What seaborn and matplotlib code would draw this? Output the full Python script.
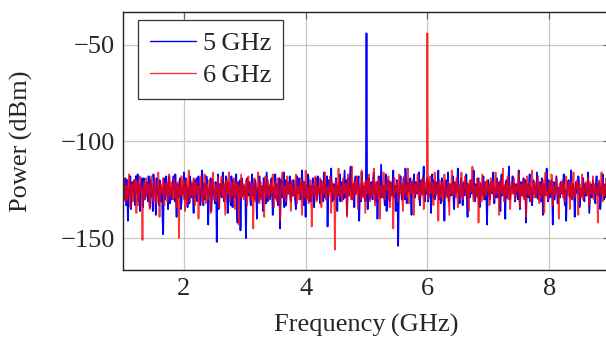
import numpy as np
import pandas as pd
import matplotlib
matplotlib.use("Agg")
import matplotlib.pyplot as plt
import seaborn as sns

# Power spectrum values (dBm) at 1.00, 1.02, ... 9.00 GHz
blue_5ghz = [
    -122,-130,-119,-127,-141,-124,-118,-131,-126,-120,-133,-123,-117,-128,-136,-121,-125,-119,-130,-124,
    -127,-118,-134,-122,-129,-117,-125,-138,-121,-128,-120,-131,-124,-148,-119,-127,-123,-135,-118,-126,
    -130,-121,-125,-117,-139,-123,-128,-119,-132,-124,-116,-127,-121,-134,-125,-118,-129,-122,-137,-120,
    -126,-131,-118,-124,-129,-115,-133,-122,-127,-120,-143,-125,-119,-130,-123,-128,-121,-152,-117,-126,
    -122,-129,-116,-131,-124,-119,-137,-121,-127,-118,-134,-123,-128,-117,-142,-125,-120,-130,-122,-126,
    -124,-150,-119,-128,-121,-133,-117,-126,-130,-122,-140,-125,-118,-129,-123,-136,-120,-127,-116,-131,
    -123,-128,-119,-138,-124,-117,-130,-122,-126,-145,-120,-129,-116,-125,-133,-121,-127,-118,-131,-124,
    -120,-127,-135,-118,-125,-122,-130,-115,-128,-121,-139,-124,-117,-131,-123,-126,-119,-134,-122,-128,
    -118,-125,-132,-121,-127,-116,-129,-123,-144,-120,-126,-114,-131,-122,-128,-119,-136,-124,-117,-127,
    -121,-130,-115,-125,-138,-119,-127,-113,-129,-122,-134,-118,-126,-120,-141,-124,-116,-128,-123,-131,
    -44,-135,-119,-126,-121,-130,-116,-128,-122,-140,-118,-125,-112,-129,-123,-133,-117,-126,-120,-131,
    -122,-128,-115,-127,-136,-120,-154,-124,-118,-130,-123,-127,-114,-132,-121,-126,-119,-138,-124,-117,
    -129,-122,-126,-116,-133,-120,-127,-113,-131,-124,-119,-128,-122,-137,-117,-125,-130,-121,-127,-115,
    -126,-132,-119,-124,-141,-121,-128,-116,-130,-123,-127,-118,-135,-122,-126,-114,-129,-124,-120,-133,
    -121,-127,-117,-139,-124,-129,-120,-126,-115,-131,-123,-128,-119,-134,-122,-126,-118,-130,-124,-143,
    -120,-128,-122,-125,-116,-132,-124,-119,-129,-121,-136,-117,-127,-123,-140,-120,-126,-113,-130,-124,
    -118,-127,-131,-122,-126,-115,-135,-121,-128,-119,-124,-142,-122,-129,-117,-125,-133,-120,-127,-123,
    -116,-130,-124,-127,-119,-138,-122,-126,-114,-131,-123,-128,-120,-143,-121,-126,-118,-132,-124,-129,
    -122,-127,-117,-133,-141,-124,-120,-129,-115,-130,-123,-139,-121,-126,-118,-134,-125,-128,-119,-131,
    -123,-127,-116,-137,-122,-129,-120,-125,-132,-118,-127,-121,-135,-124,-117,-130,-122,-128,-119,-126,
    -124,
]
# Power spectrum values (dBm) at 1.01, 1.03, ... 8.99 GHz
blue_5ghz_mid = [
    -127,-123,-133,-120,-129,-126,-135,-121,-124,-130,-118,-127,-131,-122,-125,-119,-134,-123,-128,-121,
    -131,-124,-120,-127,-136,-122,-129,-119,-126,-133,-121,-125,-140,-123,-130,-118,-128,-122,-132,-124,
    -125,-118,-131,-126,-122,-129,-120,-135,-123,-127,-130,-119,-126,-124,-132,-121,-125,-128,-120,-129,
    -119,-127,-124,-133,-121,-126,-122,-130,-118,-125,-129,-123,-136,-120,-127,-132,-124,-128,-135,-122,
    -127,-121,-125,-130,-118,-128,-123,-126,-133,-122,-120,-129,-124,-131,-121,-127,-146,-119,-128,-123,
    -129,-126,-123,-121,-130,-125,-128,-122,-120,-127,-124,-131,-122,-126,-129,-119,-125,-132,-123,-127,
    -130,-121,-127,-124,-129,-122,-126,-133,-119,-128,-125,-122,-134,-120,-127,-126,-123,-130,-121,-128,
    -124,-131,-122,-127,-119,-128,-124,-121,-133,-126,-123,-129,-120,-126,-131,-122,-128,-125,-119,-130,
    -123,-128,-120,-126,-131,-122,-125,-118,-129,-124,-121,-127,-125,-130,-122,-126,-123,-128,-131,-121,
    -126,-123,-129,-120,-125,-128,-117,-124,-130,-126,-121,-127,-123,-118,-128,-131,-122,-125,-127,-124,
    -128,-124,-130,-122,-127,-119,-125,-131,-121,-126,-123,-129,-120,-125,-128,-122,-136,-124,-127,-121,
    -126,-120,-129,-123,-125,-128,-131,-121,-126,-124,-119,-130,-122,-127,-125,-123,-129,-121,-126,-128,
    -121,-127,-123,-130,-122,-125,-119,-128,-124,-127,-131,-121,-126,-123,-129,-120,-127,-124,-122,-130,
    -123,-127,-121,-129,-125,-120,-126,-131,-122,-128,-124,-130,-121,-127,-123,-125,-132,-119,-128,-124,
    -128,-123,-130,-122,-126,-121,-127,-124,-129,-122,-126,-120,-131,-125,-128,-123,-127,-121,-129,-125,
    -124,-130,-121,-127,-123,-126,-129,-122,-125,-131,-120,-128,-124,-126,-122,-129,-121,-127,-125,-123,
    -126,-122,-128,-124,-130,-121,-127,-125,-123,-129,-120,-126,-128,-122,-131,-124,-127,-121,-125,-129,
    -123,-127,-121,-131,-125,-122,-128,-124,-126,-120,-129,-123,-127,-125,-130,-122,-126,-124,-128,-121,
    -127,-123,-130,-125,-128,-121,-126,-124,-129,-122,-125,-131,-123,-127,-121,-128,-124,-126,-130,-122,
    -128,-122,-126,-130,-124,-127,-123,-129,-121,-125,-128,-124,-131,-122,-126,-123,-129,-125,-127,-123,
]

red_6ghz = [
    -125,-119,-131,-123,-127,-117,-134,-122,-128,-120,-126,-137,-121,-129,-118,-125,-151,-123,-130,-119,
    -127,-122,-135,-118,-126,-131,-120,-128,-124,-116,-139,-122,-127,-119,-133,-125,-121,-129,-117,-126,
    -123,-130,-119,-127,-134,-121,-150,-125,-118,-128,-122,-136,-120,-126,-115,-131,-124,-128,-119,-133,
    -121,-127,-140,-123,-118,-129,-125,-117,-132,-122,-127,-120,-137,-124,-116,-130,-123,-126,-119,-134,
    -125,-118,-129,-122,-138,-120,-127,-116,-131,-124,-128,-119,-135,-121,-126,-143,-123,-117,-129,-122,
    -127,-120,-133,-118,-125,-130,-122,-145,-119,-128,-124,-116,-132,-121,-127,-123,-139,-118,-126,-120,
    -130,-122,-125,-117,-134,-121,-128,-119,-126,-141,-123,-116,-129,-124,-131,-118,-127,-122,-136,-120,
    -125,-129,-117,-132,-123,-126,-119,-138,-121,-128,-115,-130,-124,-127,-120,-144,-122,-126,-118,-131,
    -123,-127,-119,-134,-121,-126,-116,-130,-124,-128,-118,-137,-122,-125,-156,-120,-129,-114,-127,-123,
    -131,-119,-126,-122,-139,-117,-128,-124,-113,-130,-121,-127,-118,-135,-123,-126,-115,-129,-122,-137,
    -120,-127,-117,-131,-124,-128,-114,-133,-121,-126,-119,-140,-123,-127,-116,-130,-122,-125,-118,-134,
    -121,-128,-145,-119,-126,-123,-131,-117,-127,-122,-136,-118,-125,-129,-114,-132,-124,-127,-120,-138,
    -122,-126,-117,-130,-124,-128,-119,-135,-121,-125,-44,-128,-118,-126,-122,-133,-116,-127,-124,-141,
    -120,-127,-123,-131,-117,-126,-129,-121,-138,-124,-115,-128,-122,-126,-119,-134,-123,-127,-116,-130,
    -124,-118,-128,-122,-136,-120,-126,-113,-131,-123,-127,-119,-142,-121,-125,-117,-130,-124,-128,-120,
    -126,-133,-119,-125,-121,-129,-116,-127,-123,-138,-120,-126,-114,-131,-122,-128,-118,-125,-135,-121,
    -127,-119,-130,-123,-126,-116,-134,-122,-128,-120,-125,-139,-118,-127,-123,-131,-115,-126,-121,-129,
    -124,-118,-132,-122,-127,-120,-137,-116,-126,-129,-121,-125,-117,-133,-123,-128,-119,-126,-140,-122,
    -127,-120,-125,-131,-118,-126,-123,-135,-121,-128,-116,-129,-124,-120,-138,-122,-127,-117,-130,-125,
    -121,-128,-119,-133,-124,-126,-118,-130,-122,-127,-142,-120,-125,-116,-131,-123,-128,-119,-126,-124,
    -122,
]
# Power spectrum values (dBm) at 1.01, 1.03, ... 8.99 GHz
red_6ghz_mid = [
    -122,-128,-125,-130,-121,-126,-129,-124,-131,-123,-120,-127,-133,-122,-126,-128,-124,-121,-129,-125,
    -123,-130,-126,-122,-129,-124,-127,-132,-121,-126,-128,-123,-125,-130,-122,-127,-131,-124,-128,-121,
    -127,-124,-129,-122,-126,-131,-123,-128,-124,-120,-127,-125,-132,-123,-128,-124,-121,-126,-130,-125,
    -126,-123,-129,-121,-127,-132,-124,-128,-122,-130,-125,-123,-127,-120,-128,-126,-131,-122,-125,-129,
    -121,-127,-124,-130,-123,-126,-122,-129,-125,-121,-127,-132,-124,-128,-122,-126,-129,-123,-125,-130,
    -124,-128,-122,-126,-129,-123,-127,-121,-131,-125,-122,-128,-124,-130,-123,-126,-122,-129,-124,-127,
    -125,-127,-121,-129,-124,-126,-131,-122,-128,-125,-120,-127,-123,-130,-122,-126,-124,-129,-121,-127,
    -128,-122,-126,-124,-130,-123,-127,-125,-121,-129,-124,-126,-132,-122,-127,-125,-123,-128,-121,-126,
    -125,-121,-129,-124,-127,-122,-130,-126,-123,-125,-128,-121,-127,-124,-131,-123,-126,-122,-128,-125,
    -124,-127,-122,-129,-125,-121,-126,-130,-123,-127,-124,-120,-128,-125,-122,-130,-124,-126,-121,-128,
    -123,-126,-129,-122,-127,-125,-121,-128,-124,-130,-122,-126,-124,-129,-121,-127,-125,-123,-128,-126,
    -124,-130,-122,-127,-125,-121,-128,-124,-126,-131,-122,-127,-123,-125,-129,-121,-126,-124,-128,-122,
    -127,-123,-125,-129,-121,-126,-124,-128,-122,-126,-130,-124,-127,-121,-129,-125,-123,-128,-122,-126,
    -124,-129,-121,-126,-123,-128,-125,-130,-122,-127,-124,-126,-121,-129,-125,-123,-128,-122,-127,-125,
    -122,-127,-125,-130,-121,-126,-124,-128,-123,-125,-129,-122,-127,-124,-131,-123,-126,-121,-128,-125,
    -123,-128,-122,-126,-130,-124,-127,-121,-129,-125,-122,-127,-124,-128,-126,-121,-130,-123,-127,-124,
    -126,-122,-128,-125,-121,-129,-123,-127,-124,-130,-122,-126,-125,-128,-121,-127,-124,-129,-123,-126,
    -121,-127,-124,-129,-123,-126,-122,-128,-125,-130,-124,-127,-121,-126,-128,-123,-125,-129,-122,-127,
    -125,-129,-122,-127,-124,-128,-121,-126,-130,-123,-127,-125,-122,-128,-124,-126,-129,-121,-127,-124,
    -126,-123,-128,-121,-127,-125,-130,-122,-126,-124,-129,-123,-127,-125,-122,-128,-124,-126,-121,-127,
]

series_labels = ["5\u2009GHz", "6\u2009GHz"]
x_ticks = [2, 4, 6, 8]
y_ticks = [-150, -100, -50]


def make_frame(main, mid, label):
    d = pd.concat([
        pd.DataFrame({"freq": np.linspace(1.0, 9.0, len(main)), "power": main}),
        pd.DataFrame({"freq": np.linspace(1.01, 8.99, len(mid)), "power": mid}),
    ], ignore_index=True).sort_values("freq")
    d["series"] = label
    return d


df_blue = make_frame(blue_5ghz, blue_5ghz_mid, series_labels[0])
df_red = make_frame(red_6ghz, red_6ghz_mid, series_labels[1])

sns.set_theme(style="white")
plt.rcParams["font.family"] = ["Liberation Serif", "DejaVu Serif"]

fig = plt.figure(figsize=(6.06, 3.39), dpi=100)
ax = fig.add_axes([123/606, 69/339, 487/606, 258/339])

sns.lineplot(data=df_blue, x="freq", y="power", color="#0000ff", lw=1.25,
             estimator=None, sort=False, ax=ax, label=series_labels[0])
sns.lineplot(data=df_red, x="freq", y="power", color="#ff0000", alpha=0.8,
             lw=1.25, estimator=None, sort=False, ax=ax, label=series_labels[1])

ax.set_xlim(1.0, 9.0)
ax.set_ylim(-166.5, -33)
ax.set_xticks(x_ticks)
ax.set_yticks(y_ticks)
ax.grid(True, color="#c8c8c8", lw=0.9)
ax.set_axisbelow(True)
for s in ax.spines.values():
    s.set_color("#222222")
    s.set_linewidth(1.0)
ax.tick_params(direction="in", length=5, width=0.9, color="#666666",
               top=True, right=True, labelsize=19, pad=6)
ax.set_xlabel("Frequency\u2009(GHz)", fontsize=19, labelpad=10)
ax.set_ylabel("Power\u2009(dBm)", fontsize=19)
ax.yaxis.set_label_coords((33 - 123) / 487, 0.5)

leg = ax.legend(loc="upper left", bbox_to_anchor=((138 - 123) / 487, (270 - 20) / 258),
                borderaxespad=0, fontsize=19, frameon=True, fancybox=False,
                edgecolor="#333333", framealpha=1.0,
                handlelength=1.75, handletextpad=0.25, borderpad=0.45,
                labelspacing=0.3)
leg.get_frame().set_linewidth(0.9)
for line in leg.get_lines():
    line.set_linewidth(1.0)

fig.savefig("out.png", dpi=100)
